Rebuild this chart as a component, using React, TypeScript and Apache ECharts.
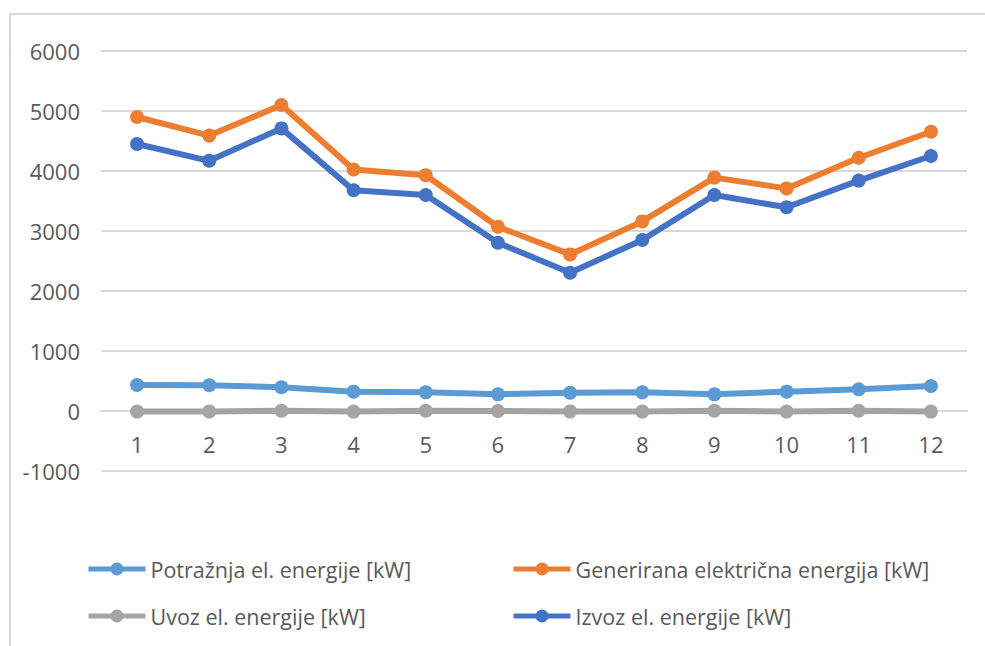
import React, { useEffect, useRef } from "react";
import * as echarts from "echarts";

const categories = ["1", "2", "3", "4", "5", "6", "7", "8", "9", "10", "11", "12"];
const potraznja = [433, 430, 395, 322, 311, 278, 305, 311, 278, 322, 361, 416];
const generirana = [4900, 4590, 5100, 4025, 3930, 3070, 2610, 3160, 3890, 3710, 4220, 4655];
const uvoz = [-10, -10, 5, -10, 5, 0, -10, -10, 5, -10, 5, -10];
const izvoz = [4450, 4170, 4710, 3680, 3600, 2805, 2305, 2850, 3600, 3395, 3840, 4250];

const names = [
  "Potražnja el. energije [kW]",
  "Generirana električna energija [kW]",
  "Uvoz el. energije [kW]",
  "Izvoz el. energije [kW]",
];
const colors = ["#5B9BD5", "#ED7D31", "#A5A5A5", "#4472C4"];
const values = [potraznja, generirana, uvoz, izvoz];

const FONT = "'Open Sans', 'Noto Sans', sans-serif";
const TEXT = "#595959";

export default function App() {
  const ref = useRef<HTMLDivElement>(null);
  useEffect(() => {
    if (!ref.current) return;
    const chart = echarts.init(ref.current, undefined, { renderer: "svg" });
    const legendPos = [
      { left: 86, top: 558 },
      { left: 511, top: 558 },
      { left: 86, top: 605 },
      { left: 511, top: 605 },
    ];
    chart.setOption({
      animation: false,
      textStyle: { fontFamily: FONT },
      grid: { left: 101, right: 18, top: 51, bottom: 175, containLabel: false },
      graphic: [
        {
          type: "rect",
          shape: { x: 10, y: 14, width: 1100, height: 800 },
          style: { fill: "none", stroke: "#d9d9d9", lineWidth: 2 },
          silent: true,
        },
      ],
      legend: names.map((n, i) => ({
        data: [n],
        left: legendPos[i].left,
        top: legendPos[i].top,
        padding: 0,
        itemWidth: 57,
        itemHeight: 16,
        itemGap: 0,
        lineStyle: { width: 5 },
        textStyle: { fontSize: 21.5, color: TEXT, fontFamily: FONT },
        selectedMode: false,
      })),
      xAxis: {
        type: "category",
        data: categories,
        boundaryGap: true,
        offset: -60,
        axisLine: { show: true, onZero: false, lineStyle: { color: "#d9d9d9", width: 2 } },
        axisTick: { show: false },
        axisLabel: { color: TEXT, fontSize: 22, margin: 22, fontFamily: FONT },
        splitLine: { show: false },
      },
      yAxis: {
        type: "value",
        min: -1000,
        max: 6000,
        interval: 1000,
        axisLine: { show: false },
        axisTick: { show: false },
        axisLabel: {
          color: TEXT,
          fontSize: 22,
          margin: 21,
          fontFamily: FONT,
          formatter: (v: number) => String(v),
        },
        splitLine: { lineStyle: { color: "#d9d9d9", width: 2 } },
      },
      series: names.map((n, i) => ({
        name: n,
        type: "line",
        data: values[i],
        symbol: "circle",
        symbolSize: 14,
        lineStyle: { width: 6, color: colors[i] },
        itemStyle: { color: colors[i] },
        z: 2 + i,
      })),
    });
    return () => chart.dispose();
  }, []);
  return (
    <div
      ref={ref}
      style={{ position: "absolute", left: 0, top: 0, width: 985, height: 646 }}
    />
  );
}
